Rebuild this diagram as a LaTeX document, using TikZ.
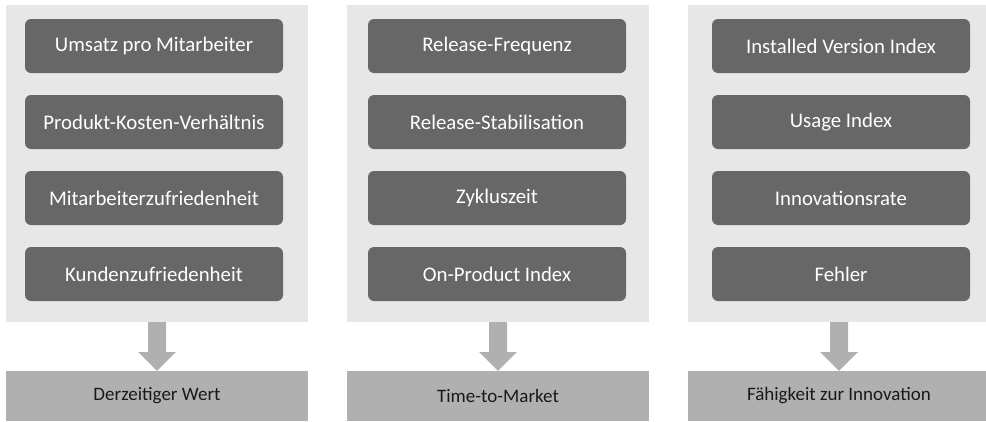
\documentclass[tikz,border=0pt]{standalone}
\usepackage{fontspec}
\setmainfont{Carlito}
\definecolor{panelbg}{HTML}{E7E7E7}
\definecolor{metric}{HTML}{676767}
\definecolor{result}{HTML}{B0B0B0}
\begin{document}
\begin{tikzpicture}[x=1pt,y=-1pt,
  panel/.style={fill=panelbg,draw=none},
  metricbox/.style={fill=metric,draw=none,rounded corners=6pt,minimum width=258pt,minimum height=54pt,inner sep=0pt,text=white,font=\fontsize{20.8}{24}\selectfont},
  resultbox/.style={fill=result,draw=none,minimum width=302pt,minimum height=50pt,inner sep=0pt,text=black!90,font=\fontsize{19}{22}\selectfont},
  bigarrow/.style={fill=result,draw=none}]
\useasboundingbox (0,0) rectangle (986,421);
\foreach \px/\name in {6/a,347/b,688/c}{
  \fill[panel] (\px,5) rectangle ++(302,317);
  \coordinate (\name top) at (\px+151,322);
}
% panel 1
\node[metricbox] (a1) at (154,46) {Umsatz pro Mitarbeiter};
\node[metricbox] (a2) at (154,122) {Produkt-Kosten-Verhältnis};
\node[metricbox] (a3) at (154,198) {Mitarbeiterzufriedenheit};
\node[metricbox] (a4) at (154,274) {Kundenzufriedenheit};
% panel 2
\node[metricbox] (b1) at (497,46) {Release-Frequenz};
\node[metricbox] (b2) at (497,122) {Release-Stabilisation};
\node[metricbox] (b3) at (497,198) {Zykluszeit};
\node[metricbox] (b4) at (497,274) {On-Product Index};
% panel 3
\node[metricbox] (c1) at (841,46) {Installed Version Index};
\node[metricbox] (c2) at (841,122) {Usage Index};
\node[metricbox] (c3) at (841,198) {Innovationsrate};
\node[metricbox] (c4) at (841,274) {Fehler};
% results
\node[resultbox] (ra) at (157,396) {Derzeitiger Wert};
\node[resultbox] (rb) at (498,396) {Time-to-Market};
\node[resultbox] (rc) at (839,396) {Fähigkeit zur Innovation};
% arrows
\foreach \n in {a,b,c}{
  \fill[bigarrow] ([xshift=-9pt]\n top) -- ([xshift=9pt]\n top) -- ([xshift=9pt,yshift=-30pt]\n top)
    -- ([xshift=19pt,yshift=-30pt]\n top) -- (r\n.north) -- ([xshift=-19pt,yshift=-30pt]\n top)
    -- ([xshift=-9pt,yshift=-30pt]\n top) -- cycle;
}
\end{tikzpicture}
\end{document}
